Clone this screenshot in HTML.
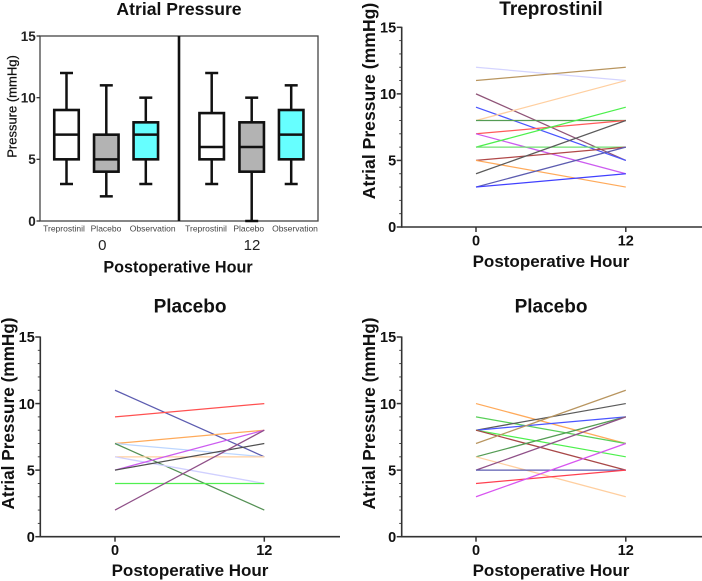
<!DOCTYPE html>
<html lang="en">
<head>
<meta charset="utf-8">
<title>Atrial Pressure</title>
<style>
html,body{margin:0;padding:0;background:#fff;}
#chart{display:block;width:702px;height:581px;filter:blur(0.35px);}
text{font-family:"Liberation Sans",sans-serif;fill:#111;}
.b{font-weight:bold;}
</style>
</head>
<body>
<svg id="chart" xmlns="http://www.w3.org/2000/svg" width="702" height="581" viewBox="0 0 702 581">
  <g id="box-panel">
    <text class="b" x="179" y="15" font-size="17.6" text-anchor="middle">Atrial Pressure</text>
    <text x="0" y="0" font-size="13" text-anchor="middle" transform="translate(16.5,106.5) rotate(-90)" stroke="#111" stroke-width="0.25">Pressure (mmHg)</text>
    <text class="b" x="178" y="272.5" font-size="16.2" text-anchor="middle">Postoperative Hour</text>
  </g>
  <g id="trep-panel">
    <text class="b" x="551" y="15" font-size="19" text-anchor="middle">Treprostinil</text>
    <text class="b" font-size="17.6" text-anchor="middle" transform="translate(375,101) rotate(-90)">Atrial Pressure (mmHg)</text>
    <text class="b" x="551" y="267" font-size="17" text-anchor="middle">Postoperative Hour</text>
  </g>
  <g id="plac-a-panel">
    <text class="b" x="190" y="312.5" font-size="19" text-anchor="middle">Placebo</text>
    <text class="b" font-size="17.2" text-anchor="middle" transform="translate(14,413.5) rotate(-90)">Atrial Pressure (mmHg)</text>
    <text class="b" x="190" y="576" font-size="17" text-anchor="middle">Postoperative Hour</text>
  </g>
  <g id="plac-b-panel">
    <text class="b" x="551" y="312.5" font-size="19" text-anchor="middle">Placebo</text>
    <text class="b" font-size="17.2" text-anchor="middle" transform="translate(375,413.5) rotate(-90)">Atrial Pressure (mmHg)</text>
    <text class="b" x="551" y="576" font-size="17" text-anchor="middle">Postoperative Hour</text>
  </g>
</svg>
<script>
// ---- data ----
const yTicks = [0, 5, 10, 15];
const minorTicks = [1, 2, 3, 4, 6, 7, 8, 9, 11, 12, 13, 14];
const hours = ["0", "12"];
const boxCategories = ["Treprostinil", "Placebo", "Observation", "Treprostinil", "Placebo", "Observation"];
const boxFills = ["#ffffff", "#b3b3b3", "#66ffff", "#ffffff", "#b3b3b3", "#66ffff"];
const boxMin = [3, 2, 3, 3, 0, 3];
const boxQ1 = [5, 4, 5, 5, 4, 5];
const boxMedian = [7, 5, 7, 6, 6, 7];
const boxQ3 = [9, 7, 8, 8.75, 8, 9];
const boxMax = [12, 11, 10, 12, 10, 11];

const trepHour0 = [12, 11, 10, 9, 8, 8, 7, 7, 6, 6, 5, 5, 4, 3, 3];
const trepHour12 = [11, 12, 5, 5, 11, 8, 8, 4, 9, 6, 6, 3, 8, 6, 4];
const trepColors = ["#d4d4ff", "#b8955f", "#8f5478", "#4a55ff", "#ffcfa0", "#549c54", "#ff5a5a", "#cc5cf0", "#4cf04c", "#70e070", "#b04848", "#ffaa5a", "#5a5a5a", "#5c5cb0", "#4040ff"];

const placAHour0 = [11, 9, 7, 7, 7, 6, 6, 5, 5, 4, 2];
const placAHour12 = [6, 10, 8, 6, 2, 6, 4, 8, 7, 4, 8];
const placAColors = ["#5c5cb0", "#ff5050", "#ffaa5a", "#bcd6ff", "#549054", "#ffcfa0", "#d0d0ff", "#cc5cf0", "#505050", "#50f050", "#8f5088"];

const placBHour0 = [10, 9, 8, 8, 8, 8, 7, 6, 6, 5, 5, 4, 3];
const placBHour12 = [7, 7, 10, 9, 6, 5, 11, 9, 3, 9, 5, 5, 7];
const placBColors = ["#ffaa5a", "#58d058", "#5a5a5a", "#4a55ff", "#4cf04c", "#a84848", "#b8955f", "#549c54", "#ffcfa0", "#8f5088", "#5c5cb0", "#ff4050", "#d855f0"];

// ---- helpers ----
const NS = "http://www.w3.org/2000/svg";
function mk(parent, tag, attrs, txt) {
  const el = document.createElementNS(NS, tag);
  for (const k in attrs) el.setAttribute(k, attrs[k]);
  if (txt !== undefined) el.textContent = txt;
  parent.appendChild(el);
  return el;
}
function yScale(top, bottom) {
  return v => bottom - (v / 15) * (bottom - top);
}

// ---- line panels ----
function drawLinePanel(group, prefix, axisX, axisEnd, top, bottom, x0, x12, start, end, colors) {
  const y = yScale(top, bottom);
  const xOf = [x0, x12];
  const lineG = mk(group, "g", {});
  
  
  start.forEach((v, i) => {
    const l = mk(lineG, "line", {x1: xOf[0], y1: y(v), x2: xOf[1], y2: y(end[i]), stroke: colors[i], "stroke-width": 1.25});
    
    
  });
  const axisColor = "#333";
  const yAxis = mk(group, "line", {x1: axisX, y1: top - 0.5, x2: axisX, y2: bottom + 0.75, stroke: axisColor, "stroke-width": 1.6});
  
  
  const xAxis = mk(group, "line", {x1: axisX, y1: bottom, x2: axisEnd, y2: bottom, stroke: axisColor, "stroke-width": 1.6});
  
  
  minorTicks.forEach(v => {
    const t = mk(group, "line", {x1: axisX - 2.5, y1: y(v), x2: axisX, y2: y(v), stroke: axisColor, "stroke-width": 0.9});
    
    
  });
  yTicks.forEach(v => {
    const t = mk(group, "line", {x1: axisX - 5, y1: y(v), x2: axisX, y2: y(v), stroke: axisColor, "stroke-width": 1.5});
    
    
    const lab = mk(group, "text", {x: axisX - 5.5, y: y(v) + 5.2, "font-size": 14.5, "text-anchor": "end", class: "b"}, String(v));
    
    
  });
  hours.forEach((h, i) => {
    const t = mk(group, "line", {x1: xOf[i], y1: bottom, x2: xOf[i], y2: bottom + 5, stroke: axisColor, "stroke-width": 1.5});
    
    
    const lab = mk(group, "text", {x: xOf[i], y: bottom + 18.3, "font-size": 14.5, "text-anchor": "middle", class: "b"}, h);
    
    
  });
}
drawLinePanel(document.getElementById("trep-panel"), "treprostinil", 401.7, 702, 27.3, 227, 476, 625.8, trepHour0, trepHour12, trepColors);
drawLinePanel(document.getElementById("plac-a-panel"), "placebo-left", 40.3, 340, 337, 536.7, 115, 264.3, placAHour0, placAHour12, placAColors);
drawLinePanel(document.getElementById("plac-b-panel"), "placebo-right", 401.7, 702, 337, 536.7, 476, 625.8, placBHour0, placBHour12, placBColors);

// ---- box panel ----
(function () {
  const g = document.getElementById("box-panel");
  const top = 36, bottom = 221, left = 40, right = 318;
  const y = yScale(top, bottom);
  const centers = [66.5, 106.3, 145.8, 211.7, 251.7, 291.2];
  const labelCenters = [64, 106, 152.7, 206, 248.7, 295];
  const bw = 24.5, cap = 6.5, sw = 2.5;
  const frame = mk(g, "rect", {x: left, y: top, width: right - left, height: bottom - top, fill: "none", stroke: "#444", "stroke-width": 1.3});
  
  
  const divider = mk(g, "line", {x1: 179, y1: top, x2: 179, y2: bottom, stroke: "#111", "stroke-width": 2.6});
  
  
  yTicks.forEach(v => {
    const t = mk(g, "line", {x1: left - 3.5, y1: y(v), x2: left, y2: y(v), stroke: "#333", "stroke-width": 1.3});
    
    
    const lab = mk(g, "text", {x: 35.8, y: y(v) + 4.8, "font-size": 13.5, "text-anchor": "end", style: "font-weight:bold;fill:#222"}, String(v));
    
    
  });
  boxCategories.forEach((c, i) => {
    const cx = centers[i];
    const bg = mk(g, "g", {});
    
    
    const st = {stroke: "#111", "stroke-width": sw};
    mk(bg, "line", Object.assign({x1: cx, y1: y(boxMin[i]), x2: cx, y2: y(boxQ1[i])}, st));
    mk(bg, "line", Object.assign({x1: cx, y1: y(boxQ3[i]), x2: cx, y2: y(boxMax[i])}, st));
    mk(bg, "line", Object.assign({x1: cx - cap, y1: y(boxMin[i]), x2: cx + cap, y2: y(boxMin[i])}, st));
    mk(bg, "line", Object.assign({x1: cx - cap, y1: y(boxMax[i]), x2: cx + cap, y2: y(boxMax[i])}, st));
    mk(bg, "rect", {x: cx - bw / 2, y: y(boxQ3[i]), width: bw, height: y(boxQ1[i]) - y(boxQ3[i]), fill: boxFills[i], stroke: "#111", "stroke-width": 2.6});
    mk(bg, "line", Object.assign({x1: cx - bw / 2, y1: y(boxMedian[i]), x2: cx + bw / 2, y2: y(boxMedian[i])}, st));
    const lab = mk(g, "text", {x: labelCenters[i], y: 231.3, "font-size": 8.5, "text-anchor": "middle", style: "fill:#444"}, c);
    
    
  });
  const hourCenters = [102.3, 252];
  hours.forEach((h, i) => {
    const lab = mk(g, "text", {x: hourCenters[i], y: 250, "font-size": 15, "text-anchor": "middle", style: "fill:#222"}, h);
    
    
  });
})();
</script>
</body>
</html>
